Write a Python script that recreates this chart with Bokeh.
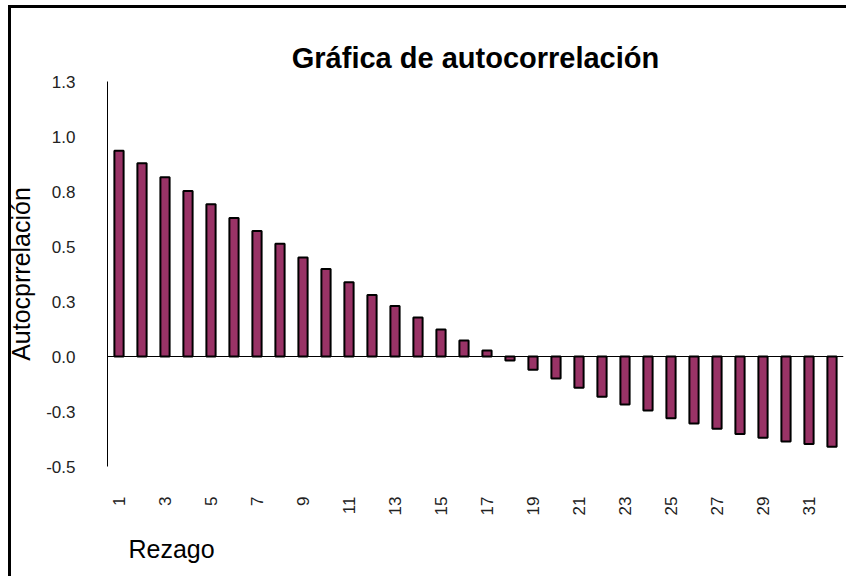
from bokeh.plotting import figure
from bokeh.models import Range1d, FixedTicker, Span, Title
from bokeh.embed import file_html
from bokeh.resources import INLINE

# ---- data ----
lags = list(range(1, 33))
acf = [0.935, 0.878, 0.815, 0.752, 0.692, 0.630, 0.570, 0.512, 0.450, 0.398,
       0.338, 0.280, 0.230, 0.177, 0.123, 0.073, 0.027, -0.018, -0.060, -0.100,
       -0.142, -0.183, -0.218, -0.246, -0.281, -0.305, -0.328, -0.352, -0.369,
       -0.386, -0.398, -0.410]
y_ticks = [-0.5, -0.25, 0.0, 0.25, 0.5, 0.75, 1.0, 1.25]
y_tick_labels = ["-0.5", "-0.3", "0.0", "0.3", "0.5", "0.8", "1.0", "1.3"]
x_ticks = list(range(1, 33, 2))
x_tick_labels = [str(t) for t in x_ticks]
title_text = "Gráfica de autocorrelación"
y_title = "Autocprrelación"
x_title = "Rezago"

FONT = "Liberation Sans"

frame_border_css = ("linear-gradient(#000, #000) 8px 5px / 3px calc(100% - 5px) no-repeat, "
                    "linear-gradient(#000, #000) 8px 5px / calc(100% - 8px) 3px no-repeat, #ffffff")

p = figure(width=846, height=576, output_backend="svg", toolbar_location=None,
           x_range=Range1d(0.5, 32.5), y_range=Range1d(-0.5, 1.25),
           min_border_left=107, min_border_right=3, min_border_top=81,
           min_border_bottom=109,
           styles={"background": frame_border_css})

p.title = Title(text=title_text, align="center", text_font=FONT,
                text_font_size="29px", text_font_style="bold",
                text_color="black", standoff=15)

p.outline_line_color = None
p.xgrid.grid_line_color = None
p.ygrid.grid_line_color = None
p.background_fill_color = "white"
p.border_fill_color = "white"
p.border_fill_alpha = 0

# y axis
ya = p.yaxis[0]
ya.ticker = FixedTicker(ticks=y_ticks)
ya.major_label_overrides = dict(zip(y_ticks, y_tick_labels))
ya.major_tick_line_color = None
ya.minor_tick_line_color = None
ya.axis_line_color = "black"
ya.axis_line_width = 1
ya.major_label_text_font = FONT
ya.major_label_text_font_size = "17px"
ya.major_label_text_color = "#222222"
ya.major_label_standoff = 26
ya.axis_label = y_title
ya.axis_label_text_font = FONT
ya.axis_label_text_font_size = "25px"
ya.axis_label_text_font_style = "normal"
ya.axis_label_text_color = "black"
ya.axis_label_standoff = 8

# x axis
xa = p.xaxis[0]
xa.ticker = FixedTicker(ticks=x_ticks)
xa.major_label_overrides = dict(zip(x_ticks, x_tick_labels))
xa.major_label_orientation = 1.5707963
xa.major_tick_line_color = None
xa.minor_tick_line_color = None
xa.axis_line_color = None
xa.major_label_text_font = FONT
xa.major_label_text_font_size = "17px"
xa.major_label_text_color = "#222222"
xa.major_label_standoff = 24

p.add_layout(Title(text=x_title, align="left", offset=21, text_font=FONT,
                   text_font_size="25px", text_font_style="normal",
                   text_color="black", standoff=28), "below")

# zero line
p.add_layout(Span(location=0, dimension="width", line_color="black",
                  line_width=1, level="underlay"))

p.vbar(x=lags, top=acf, bottom=0, width=0.4, fill_color="#993366",
       line_color="black", line_width=2)

open("out.html", "w").write(file_html(p, INLINE))
